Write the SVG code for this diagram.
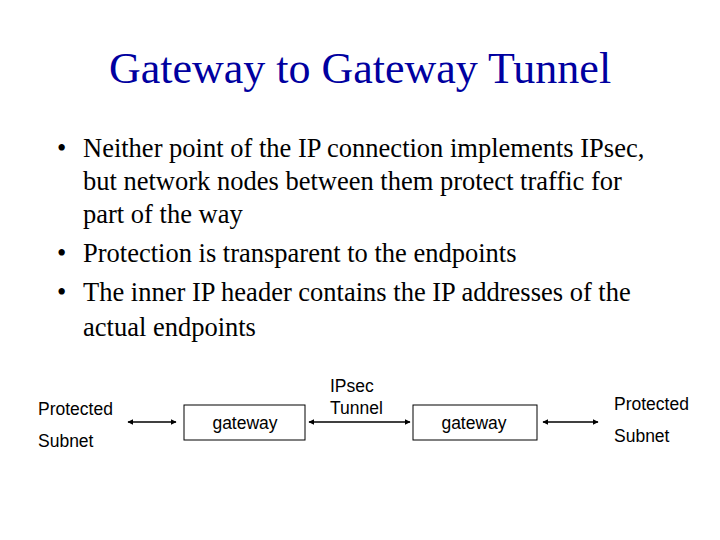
<svg xmlns="http://www.w3.org/2000/svg" width="720" height="540" viewBox="0 0 720 540">
<style>
.t{font-family:"Liberation Serif",serif;fill:#000}
.b{font-size:26.5px}
.s{font-family:"Liberation Sans",sans-serif;font-size:17.5px;fill:#000}
.box{fill:#fff;stroke:#000;stroke-width:1}
.ln{stroke:#000;stroke-width:1.5;marker-start:url(#a);marker-end:url(#a)}
</style>
<defs><marker id="a" viewBox="0 0 10 10" refX="9" refY="5" markerWidth="4" markerHeight="4" orient="auto-start-reverse"><path d="M0,0L10,5L0,10z" fill="#000"/></marker></defs>
<rect width="720" height="540" fill="#fff"/>
<text class="t" x="360" y="83" font-size="44" text-anchor="middle" style="fill:#0000a0">Gateway to Gateway Tunnel</text>
<g class="t b">
<text x="57" y="157">•</text><text x="83" y="157">Neither point of the IP connection implements IPsec,</text>
<text x="83" y="190">but network nodes between them protect traffic for</text>
<text x="83" y="223">part of the way</text>
<text x="57" y="262">•</text><text x="83" y="262">Protection is transparent to the endpoints</text>
<text x="57" y="301">•</text><text x="83" y="301">The inner IP header contains the IP addresses of the</text>
<text x="83" y="336">actual endpoints</text>
</g>
<g id="subnet1"><text class="s" x="38" y="415">Protected</text><text class="s" x="38" y="447">Subnet</text></g>
<g id="gw1"><rect class="box" x="184" y="405" width="121" height="35"/><text class="s" x="245" y="429" text-anchor="middle">gateway</text></g>
<g id="tunnel"><text class="s" x="330" y="392">IPsec</text><text class="s" x="330" y="414">Tunnel</text></g>
<g id="gw2"><rect class="box" x="413" y="405" width="124" height="35"/><text class="s" x="474" y="429" text-anchor="middle">gateway</text></g>
<g id="subnet2"><text class="s" x="614" y="410">Protected</text><text class="s" x="614" y="442">Subnet</text></g>
<g id="connectors">
<line class="ln" x1="128" y1="422" x2="176" y2="422"/>
<line class="ln" x1="309" y1="422" x2="410" y2="422"/>
<line class="ln" x1="543" y1="422" x2="598" y2="422"/>
</g>
</svg>
